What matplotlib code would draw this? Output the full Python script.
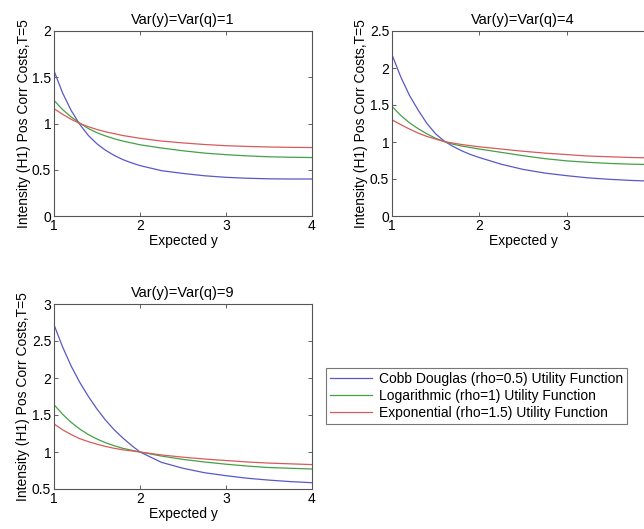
import numpy as np
import matplotlib
matplotlib.use('Agg')
import matplotlib.pyplot as plt

plt.rcParams['font.family'] = ['Liberation Sans', 'DejaVu Sans']

# expected y grid
x = [1, 1.1, 1.2, 1.3, 1.4, 1.5, 1.6, 1.7, 1.8, 1.9, 2, 2.25, 2.5, 2.75, 3, 3.25, 3.5, 3.75, 4]

# Var(y)=Var(q)=1
cd_1 = [1.57, 1.33, 1.14, 0.99, 0.87, 0.78, 0.71, 0.655, 0.61, 0.575, 0.545, 0.49, 0.46, 0.435, 0.418, 0.408, 0.402, 0.40, 0.40]
log_1 = [1.25, 1.15, 1.07, 1.005, 0.945, 0.90, 0.865, 0.835, 0.81, 0.79, 0.77, 0.735, 0.705, 0.68, 0.663, 0.65, 0.64, 0.635, 0.632]
exp_1 = [1.16, 1.10, 1.045, 1.0, 0.965, 0.935, 0.91, 0.89, 0.87, 0.855, 0.84, 0.81, 0.79, 0.773, 0.76, 0.752, 0.746, 0.742, 0.74]

# Var(y)=Var(q)=4
cd_4 = [2.18, 1.88, 1.63, 1.43, 1.25, 1.11, 1.01, 0.94, 0.88, 0.83, 0.79, 0.70, 0.63, 0.58, 0.545, 0.515, 0.495, 0.48, 0.47]
log_4 = [1.48, 1.36, 1.26, 1.18, 1.11, 1.05, 1.005, 0.97, 0.945, 0.925, 0.905, 0.86, 0.815, 0.775, 0.745, 0.725, 0.71, 0.70, 0.695]
exp_4 = [1.30, 1.235, 1.175, 1.12, 1.075, 1.04, 1.005, 0.985, 0.965, 0.95, 0.935, 0.905, 0.875, 0.85, 0.83, 0.81, 0.80, 0.79, 0.785]

# Var(y)=Var(q)=9
cd_9 = [2.72, 2.42, 2.16, 1.94, 1.75, 1.58, 1.43, 1.30, 1.19, 1.09, 1.00, 0.86, 0.78, 0.72, 0.68, 0.645, 0.62, 0.60, 0.585]
log_9 = [1.64, 1.51, 1.40, 1.31, 1.235, 1.175, 1.125, 1.085, 1.05, 1.025, 1.00, 0.945, 0.90, 0.865, 0.835, 0.81, 0.79, 0.78, 0.77]
exp_9 = [1.38, 1.30, 1.235, 1.18, 1.14, 1.105, 1.075, 1.05, 1.03, 1.015, 1.00, 0.96, 0.93, 0.905, 0.885, 0.865, 0.85, 0.84, 0.83]

labels = ['Cobb Douglas (rho=0.5) Utility Function',
          'Logarithmic (rho=1) Utility Function',
          'Exponential (rho=1.5) Utility Function']
colors = ['#5858c8', '#45a045', '#d85a5a']

panels = [
    ('Var(y)=Var(q)=1', [cd_1, log_1, exp_1], (0, 2), [0, 0.5, 1, 1.5, 2], ['0', '0.5', '1', '1.5', '2']),
    ('Var(y)=Var(q)=4', [cd_4, log_4, exp_4], (0, 2.5), [0, 0.5, 1, 1.5, 2, 2.5], ['0', '0.5', '1', '1.5', '2', '2.5']),
    ('Var(y)=Var(q)=9', [cd_9, log_9, exp_9], (0.5, 3), [0.5, 1, 1.5, 2, 2.5, 3], ['0.5', '1', '1.5', '2', '2.5', '3']),
]

fig = plt.figure(figsize=(6.44, 5.29), dpi=100)
W, H = 644, 529
# axes boxes in pixels: left, top, width (the second one runs off the right edge)
rects = [(54, 31, 258), (392, 31, 262), (54, 304, 258)]
ah = 185

handles = None
for i, ((title, series, ylim, yt, ytl), (px, py, aw)) in enumerate(zip(panels, rects)):
    ax = fig.add_axes([px / W, 1 - (py + ah) / H, aw / W, ah / H])
    lines = []
    for s, c in zip(series, colors):
        l, = ax.plot(x, s, color=c, lw=0.9)
        lines.append(l)
    handles = lines
    ax.set_xlim(1, 4)
    ax.set_ylim(*ylim)
    ax.set_xticks([1, 2, 3, 4])
    # the '4' of the top right panel falls outside the picture
    ax.set_xticklabels(['1', '2', '3', '' if i == 1 else '4'])
    ax.set_yticks(yt)
    ax.set_yticklabels(ytl)
    ax.tick_params(direction='in', top=True, right=True, labelsize=10,
                   length=3, width=0.6, color='#444444', pad=2)
    for sp in ax.spines.values():
        sp.set_color('#555555')
        sp.set_linewidth(0.8)
    ax.set_title(title, fontsize=10.5, pad=5)
    ax.set_xlabel('Expected y', fontsize=10, labelpad=1)
    ax.set_ylabel('Intensity (H1) Pos Corr Costs,T=5', fontsize=10, labelpad=1)

leg = fig.legend(handles, labels, loc='upper left',
                 bbox_to_anchor=(326 / W, 1 - 368 / H), fontsize=10,
                 frameon=True, fancybox=False, handlelength=3.0,
                 borderpad=0.3, labelspacing=0.2, handletextpad=0.5,
                 borderaxespad=0)
leg.get_frame().set_edgecolor('#555555')
leg.get_frame().set_linewidth(0.8)

fig.savefig('out.png', dpi=100)
